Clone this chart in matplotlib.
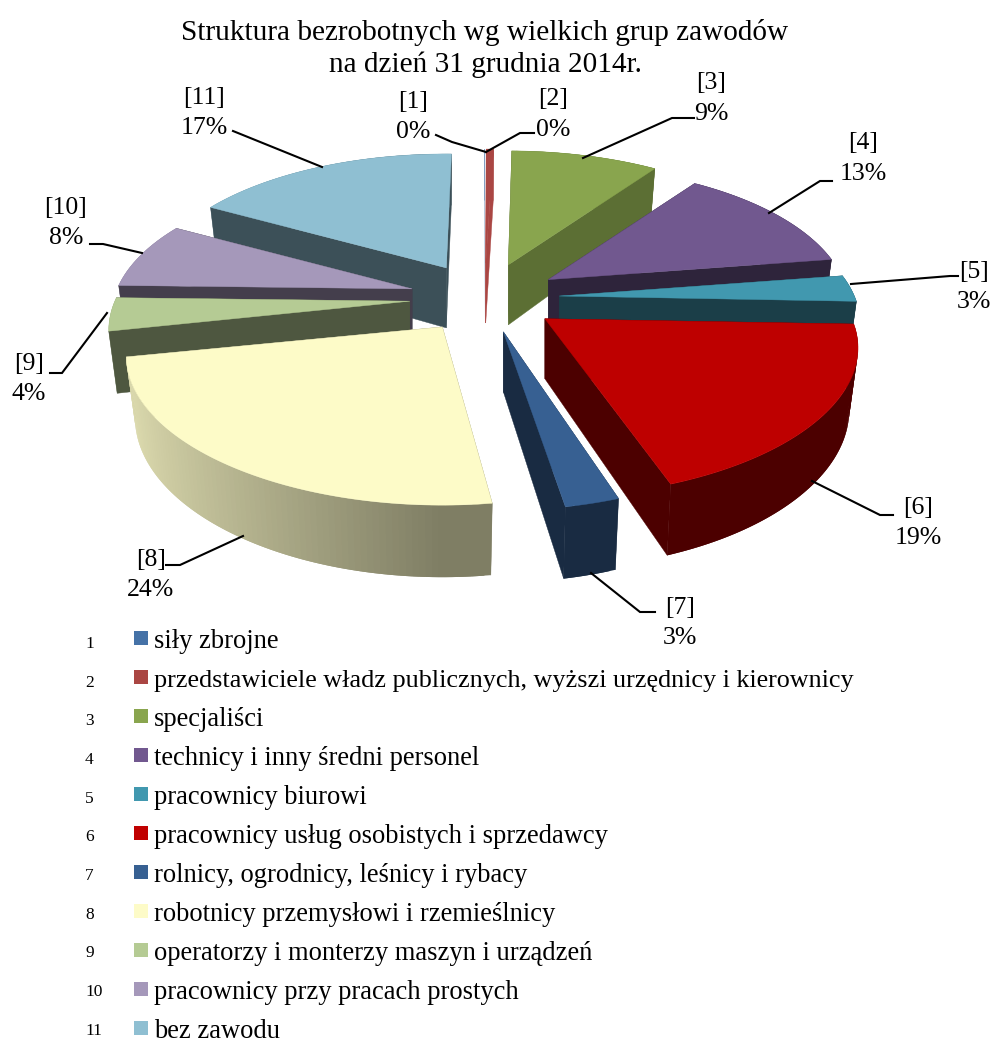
#!/usr/bin/env python
"""Exploded 3D-look pie: unemployed by occupation group, 31 Dec 2014."""
import numpy as np
import matplotlib
matplotlib.use("Agg")
import matplotlib.pyplot as plt
from matplotlib.patches import Polygon, Rectangle

plt.rcParams["font.family"] = ["Liberation Serif", "DejaVu Serif"]

# data
values = [0.03, 0.47, 9.3, 12.8, 3.0, 19.0, 2.7, 24.4, 3.7, 7.6, 17.0]
pct_labels = ["0%", "0%", "9%", "13%", "3%", "19%", "3%", "24%", "4%", "8%", "17%"]
names = [
    "siły zbrojne",
    "przedstawiciele władz publicznych, wyższi urzędnicy i kierownicy",
    "specjaliści",
    "technicy i inny średni personel",
    "pracownicy biurowi",
    "pracownicy usług osobistych i sprzedawcy",
    "rolnicy, ogrodnicy, leśnicy i rybacy",
    "robotnicy przemysłowi i rzemieślnicy",
    "operatorzy i monterzy maszyn i urządzeń",
    "pracownicy przy pracach prostych",
    "bez zawodu",
]
colors = ["#4572A7", "#AA4643", "#89A54E", "#71588F", "#4198AF", "#BE0000",
          "#376092", "#FDFBC8", "#B5CB94", "#A598BA", "#8FBFD2"]
wall_shade = [1.0, 1.0, 0.67, 0.41, 0.41, 0.40, 0.45, 0.50, 0.43, 0.41, 0.42]
title_lines = ["Struktura bezrobotnych wg wielkich grup zawodów", "na dzień 31 grudnia 2014r."]

# layout, pixels of the 992x1039 canvas
CX, CY = 484.5, 298.0     # pie centre before explosion
EX, EY = 75.0, 35.0       # explosion
R, KX = 295.0, 0.20       # horizontal radius and perspective
A, KY = 139.0, 0.22       # vertical radius and perspective
DEPTH, DK, SQUEEZE = 60.0, 0.167, 0.028
radius_scale = [1, 1, 1, 1, 1, 1.04, 1, 1.05, 1, 1, 1]
start_trim = [0, 0, -1, 0, 0, 0, 1, 2.3, 0, 0, 0]  # degrees
end_trim = [0, 0, 0, 0, 0, 0, 0, 0, 0, 0, -1.2]

label_pos = [(413, 100), (553, 97), (711, 81), (863, 141), (974, 270), (918, 506),
             (680, 606), (151, 558), (29, 362), (66, 206), (204, 96)]
leaders = [
    [(436, 135), (452, 142), (486, 152)],
    [(486, 152), (520, 133), (534, 133)],
    [(583, 158), (672, 118), (694, 118)],
    [(769, 213), (820, 181), (832, 181)],
    [(851, 284), (950, 276), (958, 276)],
    [(812, 481), (880, 515), (893, 515)],
    [(591, 573), (640, 612), (655, 612)],
    [(243, 536), (180, 565), (166, 565)],
    [(107, 313), (62, 373), (50, 373)],
    [(142, 253), (103, 244), (90, 244)],
    [(322, 167), (233, 131)],
]


def shade(col, f):
    return tuple(c * f for c in matplotlib.colors.to_rgb(col))


def top_point(apex, th, scale=1.0):
    u, v = np.sin(th), -np.cos(th)
    return apex[0] + scale * R * u / (1 - KX * v), apex[1] + A * v / (1 - KY * v)


def bottom_point(apex, th, scale=1.0):
    x, y = top_point(apex, th, scale)
    v = -np.cos(th)
    return apex[0] + (x - apex[0]) * (1 - SQUEEZE), y + DEPTH / (1 - DK * v)


def rim_shade(i, th):
    u = np.sin(th)
    if i == 7:
        return 0.5 + 0.37 * min(1.0, -u / 0.95) if u < 0 else 0.5
    if u < 0:
        return 0.5 + 0.3 * -u
    return wall_shade[i]


def draw_rim(ax, i, apex, ths, s):
    # quads overlap their neighbour so no seams show in the rim
    for j in range(len(ths) - 1):
        a, b = ths[j], ths[min(j + 2, len(ths) - 1)]
        c = shade(colors[i], rim_shade(i, (ths[j] + ths[j + 1]) / 2))
        pts = [top_point(apex, a, s), top_point(apex, b, s), bottom_point(apex, b, s), bottom_point(apex, a, s)]
        ax.add_patch(Polygon(pts, fc=c, ec="none"))


def draw_slice(ax, i, th0, th1):
    mid = (th0 + th1) / 2
    apex = (CX + EX * np.sin(mid), CY - EY * np.cos(mid))
    apex_low = (apex[0], apex[1] + DEPTH)
    col = colors[i]
    wall = shade(col, wall_shade[i])
    s = radius_scale[i]
    th0 = th0 + np.radians(start_trim[i])
    th1 = th1 - np.radians(end_trim[i])
    lw = 0.3 if values[i] > 0.1 else 0
    ths = np.linspace(th0, th1, max(2, int(np.degrees(th1 - th0)) + 2))
    front = np.cos(mid) < -0.3

    if not front:
        draw_rim(ax, i, apex, ths, s)
    for th in (th0, th1):
        pts = [apex, top_point(apex, th, s), bottom_point(apex, th, s), apex_low]
        ax.add_patch(Polygon(pts, fc=wall, ec=wall, lw=lw))
    if front:
        draw_rim(ax, i, apex, ths, s)

    outline = [apex] + [top_point(apex, t, s) for t in ths]
    ax.add_patch(Polygon(outline, fc=col, ec=col, lw=lw))


fig = plt.figure(figsize=(9.92, 10.39), dpi=100)
ax = fig.add_axes([0, 0, 1, 1])
ax.set_xlim(0, 992)
ax.set_ylim(1039, 0)
ax.axis("off")

edges = np.radians(np.cumsum([0] + values) / sum(values) * 360)
mids = (edges[:-1] + edges[1:]) / 2
for i in np.argsort(-np.cos(mids)):  # back slices first
    draw_slice(ax, i, edges[i], edges[i + 1])

for pts in leaders:
    xs, ys = zip(*pts)
    ax.plot(xs, ys, color="black", lw=1.5, solid_joinstyle="miter", zorder=20)

for i, (x, y) in enumerate(label_pos):
    ax.text(x, y + 2, f"[{i + 1}]", ha="center", va="center", fontsize=18.5, zorder=21)
    ax.text(x, y + 32.5, pct_labels[i], ha="center", va="center", fontsize=18.5, zorder=21)

ax.text(485, 33, title_lines[0], ha="center", va="center", fontsize=21.1)
ax.text(485, 65, title_lines[1], ha="center", va="center", fontsize=21.1)

for i, name in enumerate(names):
    y = 640 + 39 * i
    ax.text(85, 648 + 38.67 * i, str(i + 1), ha="left", va="baseline", fontsize=12.5)
    ax.add_patch(Rectangle((134, y - 9), 14, 14, fc="#C00000" if i == 5 else colors[i], ec="none"))
    ax.text(154, y + 8, name, ha="left", va="baseline", fontsize=18.8 if i == 1 else 19.1)

fig.savefig("out.png", dpi=100)
